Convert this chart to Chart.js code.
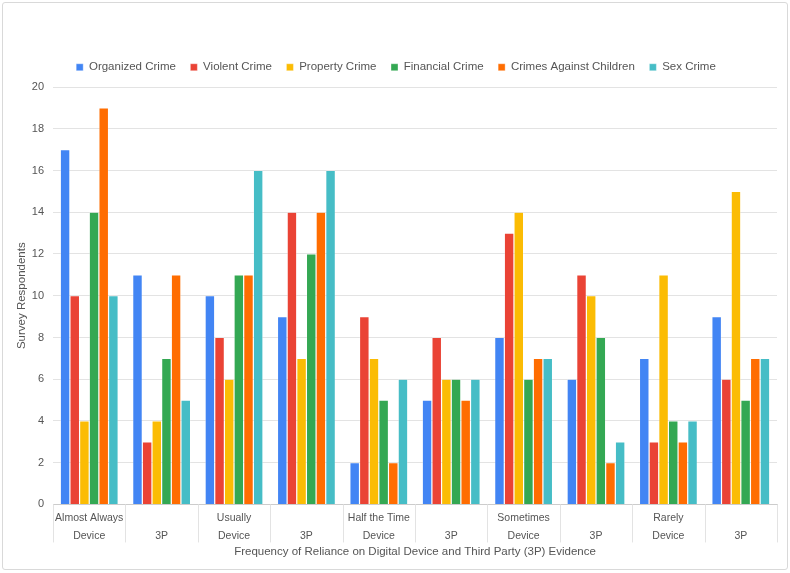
<!DOCTYPE html>
<html>
<head>
<meta charset="utf-8">
<script src="https://cdn.jsdelivr.net/npm/chart.js@4"></script>
<style>
  html, body { margin: 0; padding: 0; background: #fff; }
  #wrap {
    position: absolute; left: 2px; top: 2px;
    width: 784px; height: 566px;
    border: 1px solid #d9d9d9; border-radius: 3px;
  }
</style>
</head>
<body>
<div id="wrap"><canvas id="chart"></canvas></div>
<script>
// Category labels (frequency / evidence source)
const frequencies = ['Almost Always', '', 'Usually', '', 'Half the Time', '', 'Sometimes', '', 'Rarely', ''];
const sources = ['Device', '3P', 'Device', '3P', 'Device', '3P', 'Device', '3P', 'Device', '3P'];

// Survey counts per crime type
const organizedCrime = [17, 11, 10, 9, 2, 5, 8, 6, 7, 9];
const violentCrime = [10, 3, 8, 14, 9, 8, 13, 11, 3, 6];
const propertyCrime = [4, 4, 6, 7, 7, 6, 14, 10, 11, 15];
const financialCrime = [14, 7, 11, 12, 5, 6, 6, 8, 4, 5];
const crimesAgainstChildren = [19, 11, 11, 14, 2, 5, 7, 2, 3, 7];
const sexCrime = [10, 5, 16, 16, 6, 6, 7, 3, 4, 7];

const yTicks = [0, 2, 4, 6, 8, 10, 12, 14, 16, 18, 20];

const textColor = '#555555';
const gridColor = '#e3e3e3';
const fontFamily = 'Arial, "Liberation Sans", sans-serif';

function series(label, data, color) {
    return {
        label: label,
        data: data,
        backgroundColor: color,
        borderColor: 'rgba(255,255,255,0.6)',
        borderWidth: 0.6,
        categoryPercentage: 0.8,
        barPercentage: 1.0
    };
}

// draws the separators between the category labels under the plot
const labelSeparators = {
    id: 'labelSeparators',
    afterDraw(chart) {
        const xs = chart.scales.x;
        const c = chart.ctx;
        const n = xs.ticks.length;
        const xsPos = [xs.left];
        for (let i = 1; i < n; i++) {
            xsPos.push((xs.getPixelForTick(i - 1) + xs.getPixelForTick(i)) / 2);
        }
        xsPos.push(xs.right);
        c.save();
        c.strokeStyle = gridColor;
        c.lineWidth = 1;
        xsPos.forEach(x => {
            const px = Math.round(x) + 0.5;
            c.beginPath();
            c.moveTo(px, xs.top);
            c.lineTo(px, xs.top + 38);
            c.stroke();
        });
        c.restore();
    }
};

// a bit more room between the legend and the plot
const legendGap = {
    id: 'legendGap',
    beforeInit(chart) {
        const fit = chart.legend.fit;
        chart.legend.fit = function () {
            fit.call(this);
            this.height += 4;
        };
    }
};

const ctx = document.getElementById('chart').getContext('2d');
new Chart(ctx, {
    type: 'bar',
    data: {
        labels: frequencies.map((f, i) => [f, sources[i]]),
        datasets: [
            series('Organized Crime', organizedCrime, '#4285F4'),
            series('Violent Crime', violentCrime, '#EA4335'),
            series('Property Crime', propertyCrime, '#FBBC04'),
            series('Financial Crime', financialCrime, '#34A853'),
            series('Crimes Against Children', crimesAgainstChildren, '#FF6D01'),
            series('Sex Crime', sexCrime, '#46BDC6')
        ]
    },
    options: {
        responsive: true,
        maintainAspectRatio: false,
        animation: false,
        layout: { padding: { top: 44, right: 10, left: 12, bottom: 10 } },
        plugins: {
            legend: {
                position: 'top',
                labels: {
                    usePointStyle: true,
                    pointStyle: 'rect',
                    boxWidth: 7,
                    boxHeight: 7,
                    padding: 14.5,
                    color: textColor,
                    font: { size: 11.5, family: fontFamily }
                }
            },
            tooltip: { enabled: false }
        },
        scales: {
            x: {
                grid: { display: false },
                border: { color: '#cccccc' },
                ticks: {
                    color: textColor,
                    padding: -4,
                    autoSkip: false,
                    maxRotation: 0,
                    font: { size: 10.5, family: fontFamily, lineHeight: 1.75 }
                },
                title: {
                    display: true,
                    text: 'Frequency of Reliance on Digital Device and Third Party (3P) Evidence',
                    color: textColor,
                    padding: { top: 4, bottom: 0 },
                    font: { size: 11.5, family: fontFamily }
                }
            },
            y: {
                min: 0,
                max: 20,
                afterBuildTicks: axis => { axis.ticks = yTicks.map(v => ({ value: v })); },
                grid: { color: gridColor, drawTicks: false },
                border: { display: false },
                ticks: {
                    color: textColor,
                    padding: 9,
                    font: { size: 11, family: fontFamily }
                },
                title: {
                    display: true,
                    text: 'Survey Respondents',
                    color: textColor,
                    padding: { top: 0, bottom: -6 },
                    font: { size: 11.5, family: fontFamily }
                }
            }
        }
    },
    plugins: [labelSeparators, legendGap]
});
</script>
</body>
</html>
